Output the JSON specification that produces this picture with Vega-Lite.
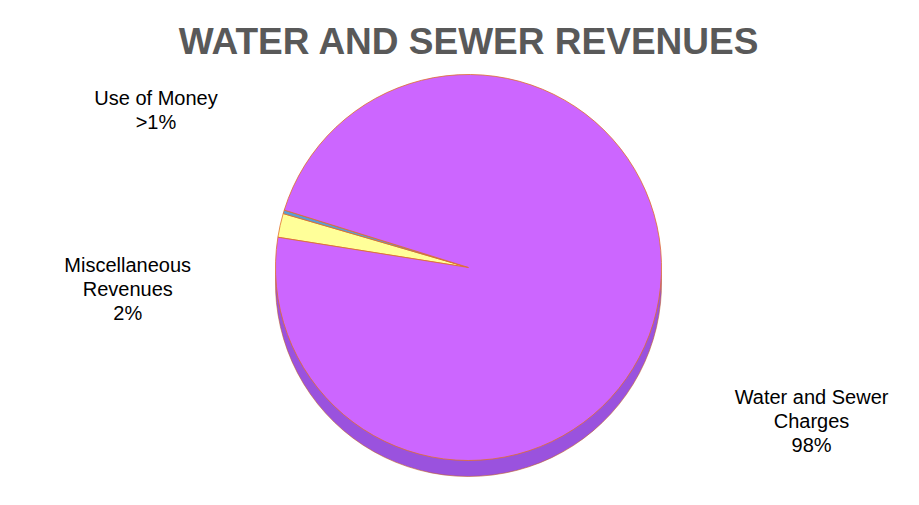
{
  "$schema": "https://vega.github.io/schema/vega-lite/v6.json",
  "width": 919,
  "height": 505,
  "autosize": {"type": "fit", "contains": "padding"},
  "padding": {"left": 18, "right": 0, "top": 24, "bottom": 28},
  "background": "white",
  "config": {"view": {"stroke": null}},
  "title": {
    "text": "WATER AND SEWER REVENUES",
    "font": "Liberation Sans",
    "fontSize": 37,
    "fontWeight": "bold",
    "color": "#595959",
    "anchor": "middle",
    "offset": 0,
    "dy": 4
  },
  "data": {
    "values": [
      {"category": "Miscellaneous Revenues", "value": 2.0, "label": "Miscellaneous\nRevenues\n2%"},
      {"category": "Use of Money", "value": 0.3, "label": "Use of Money\n>1%"},
      {"category": "Water and Sewer Charges", "value": 97.7, "label": "Water and Sewer\nCharges\n98%"}
    ]
  },
  "layer": [
    {
      "mark": {"type": "arc", "outerRadius": 193, "yOffset": 16, "color": "#9A52DE", "stroke": "#C0602A", "strokeWidth": 0.6},
      "encoding": {
        "theta": {"field": "value", "type": "quantitative", "stack": true, "scale": {"range": [4.87, 11.153]}},
        "order": {"field": "category", "sort": "ascending"}
      }
    },
    {
      "mark": {"type": "arc", "outerRadius": 193, "stroke": "#E0702A", "strokeWidth": 0.8},
      "encoding": {
        "theta": {"field": "value", "type": "quantitative", "stack": true, "scale": {"range": [4.87, 11.153]}},
        "order": {"field": "category", "sort": "ascending"},
        "color": {
          "field": "category",
          "type": "nominal",
          "legend": null,
          "scale": {
            "domain": ["Miscellaneous Revenues", "Use of Money", "Water and Sewer Charges"],
            "range": ["#FFFF99", "#5B9BD5", "#CC66FF"]
          }
        }
      }
    },
    {
      "mark": {"type": "text", "radius": 340, "dx": 13, "dy": -70, "font": "Liberation Sans", "fontSize": 20, "lineBreak": "\n", "lineHeight": 24, "align": "center", "baseline": "middle", "color": "#000000"},
      "encoding": {
        "theta": {"field": "value", "type": "quantitative", "stack": true},
        "order": {"field": "category", "sort": "ascending"},
        "text": {"condition": {"test": "datum.category === 'Use of Money'", "field": "label"}, "value": ""}
      }
    },
    {
      "mark": {"type": "text", "radius": 340, "dx": -9, "dy": 73, "font": "Liberation Sans", "fontSize": 20, "lineBreak": "\n", "lineHeight": 24, "align": "center", "baseline": "middle", "color": "#000000"},
      "encoding": {
        "theta": {"field": "value", "type": "quantitative", "stack": true},
        "order": {"field": "category", "sort": "ascending"},
        "text": {"condition": {"test": "datum.category === 'Miscellaneous Revenues'", "field": "label"}, "value": ""}
      }
    },
    {
      "mark": {"type": "text", "radius": 340, "dx": 12, "dy": 53, "font": "Liberation Sans", "fontSize": 20, "lineBreak": "\n", "lineHeight": 24, "align": "center", "baseline": "middle", "color": "#000000"},
      "encoding": {
        "theta": {"field": "value", "type": "quantitative", "stack": true},
        "order": {"field": "category", "sort": "ascending"},
        "text": {"condition": {"test": "datum.category === 'Water and Sewer Charges'", "field": "label"}, "value": ""}
      }
    }
  ]
}
